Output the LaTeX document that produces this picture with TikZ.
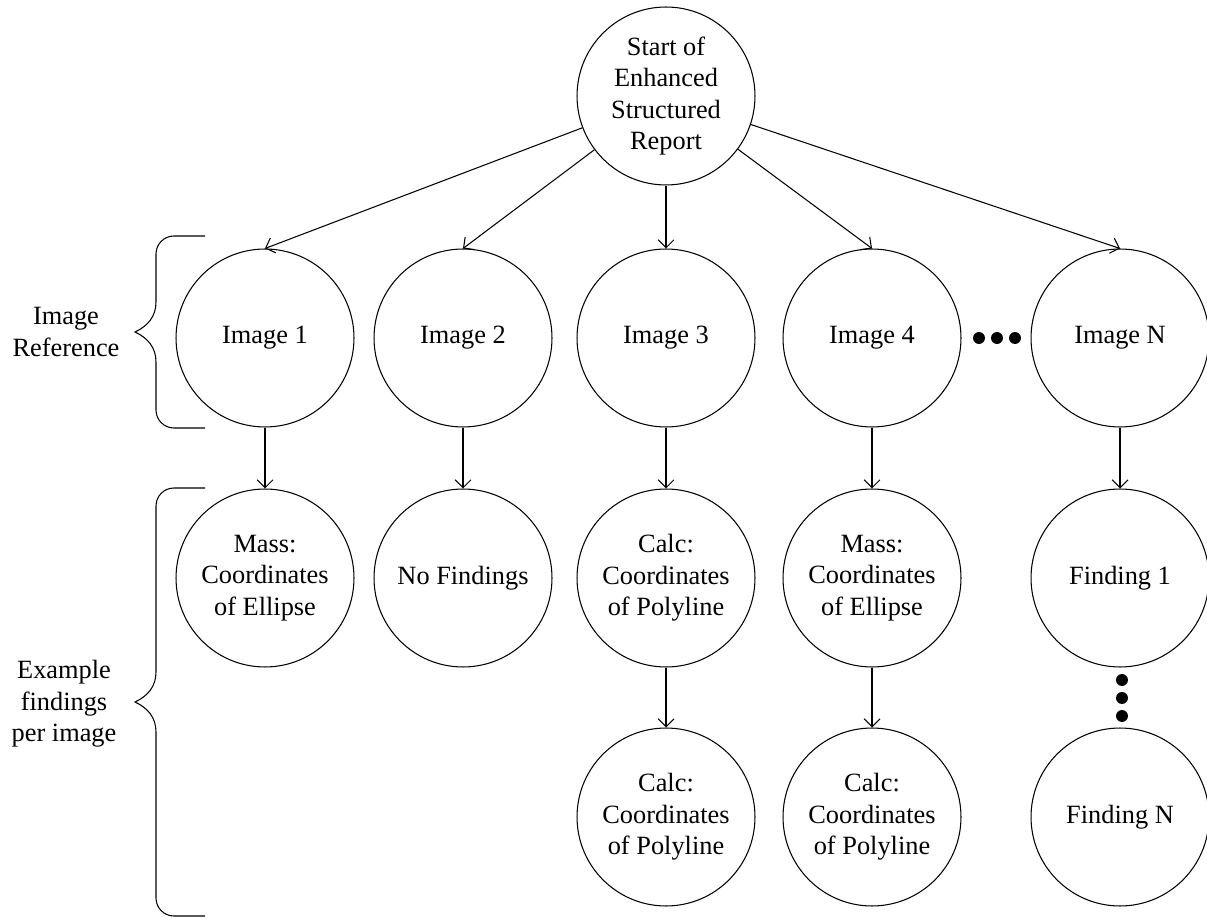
\documentclass[tikz,border=0pt]{standalone}
\usepackage{fontspec}
\setmainfont{Liberation Serif}
\usetikzlibrary{positioning,calc,arrows.meta}

\begin{document}
\begin{tikzpicture}[x=0.02cm, y=-0.02cm, line width=0.6pt,
	bubble/.style={circle, draw=black, minimum size=3.56cm, inner sep=0pt, align=center,
		font=\fontsize{15}{18}\selectfont},
	sidetext/.style={align=center, font=\fontsize{15}{18}\selectfont},
	link/.style={-{Straight Barb[length=4.5pt, width=9pt]}}]
	
	% geometry
	\useasboundingbox (0,0) rectangle (1207,918);
	\def\ra{338}   % row of images
	\def\rb{578}   % first findings
	\def\rc{817}   % second findings
	
	% curly bracket from y #1 to y #2, tip at #3
	\newcommand{\sidebrace}[3]{%
		\draw (205,#1) -- (174,#1) to[out=180, in=90] (156,#1+18)
		-- (156,#3-30) to[out=-90, in=25] (135,#3)
		to[out=-25, in=90] (156,#3+30)
		-- (156,#2-18) to[out=-90, in=180] (174,#2) -- (205,#2);
	}
	
	% root
	\node[bubble] (start) at (666,96) {Start of\\Enhanced\\Structured\\Report};
	
	% images
	\node[bubble] (img1) at (265,\ra) {Image 1};
	\node[bubble] (img2) at (463,\ra) {Image 2};
	\node[bubble] (img3) at (666,\ra) {Image 3};
	\node[bubble] (img4) at (872,\ra) {Image 4};
	\node[bubble] (imgN) at (1120,\ra) {Image N};
	
	% findings
	\node[bubble] (find1) at (265,\rb) {Mass:\\Coordinates\\of Ellipse};
	\node[bubble] (find2) at (463,\rb) {No Findings};
	\node[bubble] (find3) at (666,\rb) {Calc:\\Coordinates\\of Polyline};
	\node[bubble] (find4) at (872,\rb) {Mass:\\Coordinates\\of Ellipse};
	\node[bubble] (findN) at (1120,\rb) {Finding 1};
	\node[bubble] (calc3) at (666,\rc) {Calc:\\Coordinates\\of Polyline};
	\node[bubble] (calc4) at (872,\rc) {Calc:\\Coordinates\\of Polyline};
	\node[bubble] (lastN) at (1120,\rc) {Finding N};
	
	% arrows
	\foreach \i in {img1,img2,img3,img4,imgN}
		\draw[link] (start) -- (\i.north);
	\draw[link] (img1) -- (find1);
	\draw[link] (img2) -- (find2);
	\draw[link] (img3) -- (find3);
	\draw[link] (img4) -- (find4);
	\draw[link] (imgN) -- (findN);
	\draw[link] (find3) -- (calc3);
	\draw[link] (find4) -- (calc4);
	
	% ellipsis dots
	\foreach \x in {979,997,1015}
		\fill (\x,\ra) circle[radius=3.4pt];
	\foreach \y in {680,698,716}
		\fill (1122,\y) circle[radius=3.4pt];
	
	% brackets and their labels
	\sidebrace{236}{428}{332}
	\sidebrace{488}{916}{702}
	\node[sidetext] (imgref) at (66,332) {Image\\Reference};
	\node[sidetext] (findref) at (64,704) {Example\\findings\\per image};
	
\end{tikzpicture}
\end{document}
